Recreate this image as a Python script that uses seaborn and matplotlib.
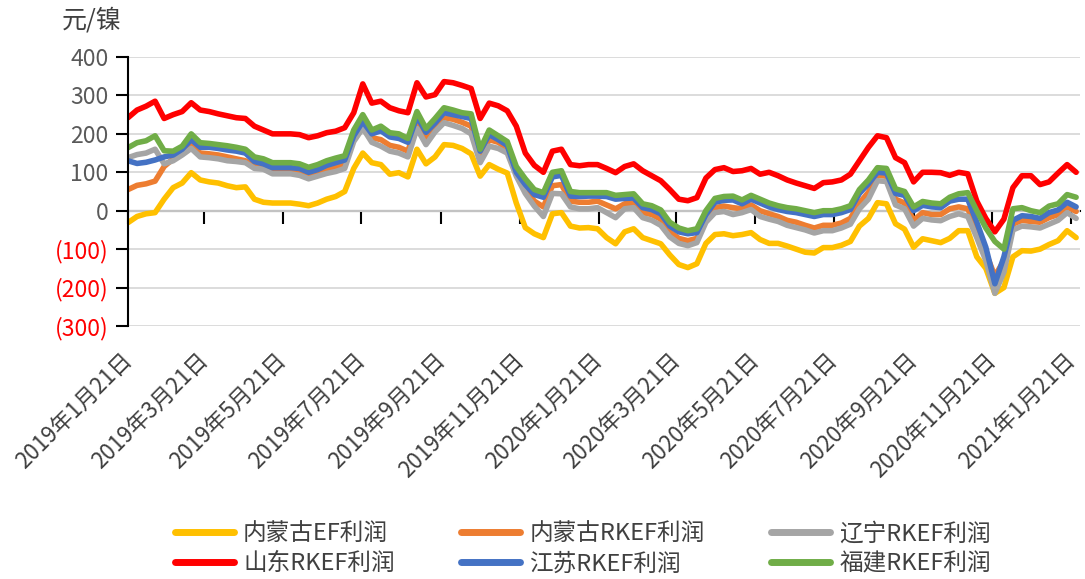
"""Nickel smelting profit by region (EF / RKEF), weekly, 2019-01 to 2021-01."""

import matplotlib

matplotlib.use("Agg")
import matplotlib.pyplot as plt  # noqa: E402
import pandas as pd  # noqa: E402
import seaborn as sns  # noqa: E402

# weekly observations starting 2019-01-21
dates = pd.date_range("2019-01-21", periods=106, freq="7D")

series_names = ["内蒙古EF利润", "内蒙古RKEF利润", "辽宁RKEF利润",
                "山东RKEF利润", "江苏RKEF利润", "福建RKEF利润"]
series_colors = ["#FFC000", "#ED7D31", "#A5A5A5", "#FF0000", "#4472C4", "#70AD47"]

nmg_ef = [
    -31, -15, -8, -5, 30, 60, 72, 99, 80, 75,
    72, 65, 60, 62, 30, 22, 20, 20, 20, 17,
    13, 20, 30, 37, 50, 110, 150, 125, 120, 95,
    99, 88, 160, 122, 140, 172, 170, 162, 148, 90,
    120, 108, 98, 20, -44, -60, -70, -8, -5, -40,
    -45, -44, -47, -70, -86, -55, -47, -70, -78, -86,
    -115, -140, -148, -138, -85, -62, -60, -65, -62, -57,
    -75, -85, -85, -92, -100, -108, -110, -96, -96, -90,
    -80, -40, -20, 21, 18, -34, -48, -95, -73, -78,
    -83, -72, -52, -52, -120, -150, -215, -200, -120, -104,
    -105, -100, -88, -78, -52, -70,
]
nmg_rkef = [
    55, 66, 70, 77, 115, 135, 150, 172, 150, 148,
    145, 140, 135, 130, 115, 113, 104, 104, 104, 100,
    92, 98, 106, 112, 120, 188, 222, 190, 185, 170,
    165, 155, 228, 190, 218, 242, 238, 230, 220, 140,
    185, 178, 162, 95, 58, 25, 10, 65, 68, 25,
    22, 22, 25, 15, 5, 18, 20, -5, -10, -22,
    -55, -72, -78, -72, -20, 8, 12, 8, 5, 15,
    0, -8, -15, -25, -30, -38, -45, -38, -38, -32,
    -20, 20, 48, 92, 90, 30, 20, -25, -5, -10,
    -10, 5, 10, 5, -50, -110, -170, -130, -35, -25,
    -28, -30, -18, -10, 10, -2,
]
liaoning = [
    138, 146, 150, 160, 122, 130, 145, 162, 140, 138,
    135, 130, 128, 125, 110, 108, 96, 96, 96, 92,
    83, 90, 97, 102, 110, 180, 215, 178, 168, 155,
    150, 140, 214, 172, 205, 229, 222, 214, 200, 125,
    168, 162, 150, 90, 45, 12, -15, 45, 44, 10,
    5, 5, 8, -5, -18, 5, 8, -18, -25, -38,
    -68, -85, -91, -83, -30, -5, -2, -10, -5, 3,
    -15, -22, -28, -38, -44, -50, -58, -52, -52, -45,
    -35, 5, 30, 78, 76, 15, 5, -40, -20, -24,
    -26, -15, -8, -15, -70, -130, -215, -160, -50, -40,
    -42, -45, -35, -25, -5, -20,
]
shandong = [
    242, 262, 272, 285, 240, 250, 258, 281, 262, 258,
    252, 247, 242, 240, 220, 210, 200, 200, 200, 198,
    190, 195, 203, 207, 216, 255, 330, 280, 285, 268,
    260, 255, 333, 296, 302, 336, 333, 326, 318, 240,
    280, 273, 260, 220, 150, 118, 100, 155, 160, 120,
    117, 120, 120, 110, 99, 115, 122, 104, 91, 78,
    55, 30, 26, 34, 85, 107, 112, 102, 104, 110,
    95, 100, 91, 80, 72, 65, 58, 73, 75, 80,
    95, 130, 165, 195, 190, 138, 125, 75, 100, 100,
    99, 92, 100, 96, 25, -20, -55, -22, 60, 91,
    91, 68, 75, 98, 120, 100,
]
jiangsu = [
    130, 123, 126, 132, 140, 145, 160, 185, 165, 165,
    162, 158, 155, 150, 128, 122, 112, 112, 112, 110,
    100, 107, 118, 125, 132, 195, 232, 200, 208, 192,
    188, 178, 245, 204, 228, 255, 250, 245, 240, 155,
    198, 185, 170, 100, 68, 42, 35, 88, 92, 38,
    37, 38, 38, 37, 30, 32, 33, 8, 3, -8,
    -40, -55, -60, -57, -10, 22, 27, 28, 18, 30,
    20, 10, 3, -2, -5, -10, -15, -10, -10, -5,
    3, 45, 70, 100, 98, 45, 40, 0, 14, 10,
    8, 25, 30, 30, -30, -95, -190, -120, -25, -13,
    -15, -20, -5, 2, 22, 10,
]
fujian = [
    164, 177, 182, 195, 156, 155, 168, 200, 177, 175,
    172, 169, 165, 160, 140, 135, 125, 125, 125, 122,
    113, 120, 130, 137, 143, 210, 250, 210, 220, 203,
    200, 188, 258, 214, 240, 268, 262, 255, 252, 160,
    210, 195, 180, 115, 83, 55, 47, 100, 104, 50,
    47, 47, 47, 47, 40, 42, 44, 18, 13, 2,
    -30, -45, -52, -47, 0, 32, 37, 38, 28, 40,
    30, 20, 13, 8, 5, 0, -5, 0, 0, 5,
    13, 55, 80, 112, 110, 57, 50, 10, 24, 20,
    18, 35, 44, 47, 0, -45, -80, -100, 5, 8,
    0, -5, 12, 18, 42, 35,
]

yticks = list(range(-300, 401, 100))
tick_dates = pd.date_range("2019-01-21", "2021-01-21", freq=pd.DateOffset(months=2))


def main() -> None:
    wide = pd.DataFrame({"date": dates})
    for name, vals in zip(series_names,
                          [nmg_ef, nmg_rkef, liaoning, shandong, jiangsu, fujian]):
        wide[name] = vals
    df = wide.melt(id_vars="date", var_name="series", value_name="profit")

    sns.set_style("white")
    plt.rcParams["font.family"] = ["Noto Sans CJK SC", "DejaVu Sans"]

    fig = plt.figure(figsize=(10.85, 5.79), dpi=100)
    ax = fig.add_axes([128 / 1085, 1 - 326 / 579, (1080 - 128) / 1085, (326 - 57) / 579])
    sns.lineplot(
        data=df, x="date", y="profit", hue="series", hue_order=series_names,
        palette=series_colors, estimator=None, linewidth=4, ax=ax,
    )

    # y axis: Excel-style accounting labels, negatives red in brackets
    ymin, ymax = yticks[0], yticks[-1]
    ax.set_ylim(ymin, ymax)
    ax.set_yticks(yticks)
    ax.set_yticklabels([f"({abs(v)})" if v < 0 else str(v) for v in yticks])
    for lab, v in zip(ax.get_yticklabels(), yticks):
        lab.set_color("#FF0000" if v < 0 else "#595959")
    ax.tick_params(axis="y", left=True, length=9, width=1.5, color="black",
                   labelsize=16.5, pad=5)
    ax.yaxis.grid(True, color="#D9D9D9", lw=1.3)
    ax.xaxis.grid(False)
    for side in ("top", "right", "bottom"):
        ax.spines[side].set_visible(False)
    ax.spines["left"].set_color("black")
    ax.spines["left"].set_linewidth(1.5)

    # x labels sit under the plot, tick marks sit on the zero line
    ax.set_xlim(pd.Timestamp("2019-01-21"), pd.Timestamp("2021-01-28"))
    ax.set_xticks(tick_dates)
    ax.set_xticklabels([f"{d.year}年{d.month}月{d.day}日" for d in tick_dates],
                       rotation=45, ha="right", va="center", rotation_mode="anchor")
    ax.tick_params(axis="x", bottom=True, length=0, labelsize=16,
                   labelcolor="#404040", pad=22)
    ax.set_xlabel("")
    ax.set_ylabel("")

    zero = ax.secondary_xaxis((0 - ymin) / (ymax - ymin))
    zero.set_xticks(tick_dates)
    zero.tick_params(axis="x", length=9, width=1.5, color="black",
                     labelbottom=False, labeltop=False)
    for sp in zero.spines.values():
        sp.set_color("black")
        sp.set_linewidth(1.5)

    fig.text(62 / 1085, 1 - 20 / 579, "元/镍", ha="left", va="center",
             fontsize=18, color="#404040")

    handles, labels = ax.get_legend_handles_labels()
    ax.get_legend().remove()
    order = [0, 3, 1, 4, 2, 5]  # ncol fills by column; Excel fills by row
    leg = fig.legend(
        [handles[i] for i in order], [labels[i] for i in order],
        ncol=3, loc="center", bbox_to_anchor=(0.537, 0.052), frameon=False,
        fontsize=17, handlelength=2.5, handletextpad=0.4, columnspacing=2.8,
        labelspacing=0.3,
    )
    for line in leg.get_lines():
        line.set_linewidth(5)
    for txt in leg.get_texts():
        txt.set_color("#404040")

    fig.savefig("out.png", dpi=100)
    plt.close(fig)


if __name__ == "__main__":
    main()
